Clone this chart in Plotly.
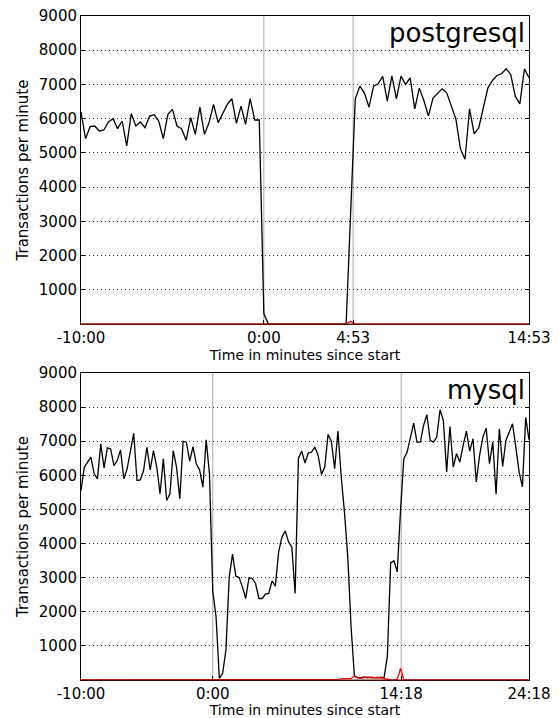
import numpy as np
import plotly.graph_objects as go
from plotly.subplots import make_subplots

# ---------------- data (transactions per minute, one sample every 15 s) ----------------
STEP_MIN = 0.25
T0 = -10.0

# postgresql
pg_before = [6194, 5417, 5767, 5786, 5641, 5670, 5903, 6000, 5709, 5932,
             5204, 6146, 5786, 5903, 5738, 6078, 6117, 5932, 5417, 6126,
             6272, 5786, 5709, 5369, 6029, 5544, 6340, 5544, 5883, 6417,
             5883, 6175, 6417, 6583, 5864, 6369, 5835, 6583, 5961, 5961]
pg_outage = [300] + [0] * 18 + [3300]
pg_after = [6580, 6951, 6746, 6337, 6951, 7020, 7234, 6512, 7254, 6580,
            7244, 7000, 7195, 6288, 6893, 6532, 6083, 6600, 6727, 6873,
            6756, 6405, 5995, 5117, 4815, 6288, 5556, 5732, 6337, 6893,
            7117, 7263, 7312, 7459, 7293, 6649, 6434, 7459, 7195]
pg_tpm = pg_before + pg_outage + pg_after
pg_err_times = [4.75]
pg_err_vals = [80]
pg_events = [0.0, 4.883]
pg_tick_vals = [-10.0, 0.0, 4.883]
pg_tick_text = ["-10:00", "0:00", "4:53", "14:53"]

# mysql
my_before = [5556, 6239, 6385, 6532, 6044, 5898, 6922, 6220, 6805, 6776,
             6288, 6434, 6746, 5898, 6190, 6727, 7234, 5849, 5868, 6141,
             6824, 6161, 6727, 6239, 5459, 6483, 5263, 5459, 6727, 6239,
             5312, 7000, 6971, 6415, 6844, 6337, 6161, 5654, 7039, 6044]
my_after = [2600, 1850, 50, 195, 878, 3024, 3688, 3044,          # 0:00 - 1:45
            3005, 2732, 2390, 2995, 2976, 2829, 2390, 2390,       # 2:00 - 3:45
            2517, 2537, 2907, 2751, 3756, 4195, 4371, 4049,       # 4:00 - 5:45
            3902, 2537, 6488, 6712, 6361, 6654, 6683, 6829,       # 6:00 - 7:45
            6585, 6029, 6244, 7200, 7000, 6195, 7298, 5951,       # 8:00 - 9:45
            4900, 3580, 1540, 117, 80, 70, 90, 60,                # 10:00 - 11:45
            80, 70, 60, 80, 70, 683, 3434, 3493,                  # 12:00 - 13:45
            3170, 4976, 6488, 6683, 7073, 7532, 6976, 6976,       # 14:00 - 15:45
            7463, 7776, 7024, 6976, 7122, 7922, 7610, 6098,       # 16:00 - 17:45
            7434, 6244, 6634, 6390, 6878, 7298, 6712, 7073,       # 18:00 - 19:45
            5805, 6585, 7122, 7385, 6341, 6976, 5450, 7366,       # 20:00 - 21:45
            6263, 7024, 7268, 7512, 6829, 6098, 5659, 7700,       # 22:00 - 23:45
            7050]                                                 # 24:00
my_tpm = my_before + my_after
my_err_times = [9.5, 9.75, 10.0, 10.25, 10.5, 10.75, 11.0, 11.25, 11.5, 11.75,
                12.0, 12.25, 12.5, 12.75, 13.0, 13.25, 14.0, 14.25]
my_err_vals = [20, 30, 30, 40, 50, 110, 60, 50, 70, 90,
               70, 60, 80, 60, 30, 10, 20, 340]
my_events = [0.0, 14.3]
my_tick_vals = [-10.0, 0.0, 14.3]
my_tick_text = ["-10:00", "0:00", "14:18", "24:18"]

y_ticks = [1000, 2000, 3000, 4000, 5000, 6000, 7000, 8000, 9000]


def times(n):
    return T0 + STEP_MIN * np.arange(n)


def err_series(t, et, ev):
    out = np.zeros(len(t))
    for a, b in zip(et, ev):
        out[int(round((a - T0) / STEP_MIN))] = b
    return out


pg_t = times(len(pg_tpm))
my_t = times(len(my_tpm))
pg_err = err_series(pg_t, pg_err_times, pg_err_vals)
my_err = err_series(my_t, my_err_times, my_err_vals)

# ---------------- figure ----------------
FONT = "DejaVu Sans"
fig = make_subplots(rows=2, cols=1)

panels = [
    (1, pg_t, pg_tpm, pg_err, pg_events, pg_tick_vals + [pg_t[-1]], pg_tick_text, "postgresql"),
    (2, my_t, my_tpm, my_err, my_events, my_tick_vals + [my_t[-1]], my_tick_text, "mysql"),
]
domains = {1: [0.5361, 1.0], 2: [0.0, 0.4623]}

for row, t, v, err, events, tv, tt, name in panels:
    fig.add_trace(go.Scatter(x=t, y=v, mode="lines", line=dict(color="black", width=1.3),
                             showlegend=False), row=row, col=1)
    fig.add_trace(go.Scatter(x=t, y=err, mode="lines", line=dict(color="#ff0000", width=1.3),
                             showlegend=False), row=row, col=1)
    for e in events:
        fig.add_vline(x=e, line=dict(color="#a8a8a8", width=1), layer="below", row=row, col=1)
    sfx = "" if row == 1 else "2"
    fig.update_xaxes(range=[t[0], t[-1]], tickvals=tv, ticktext=tt, automargin=False,
                     showline=True, linecolor="black", linewidth=1, mirror=True,
                     ticks="inside", ticklen=4, tickcolor="black", ticklabelstandoff=0,
                     showgrid=False, zeroline=False,
                     tickfont=dict(family=FONT, size=15, color="black"),
                     title=dict(text="Time in minutes since start", standoff=1,
                                font=dict(family=FONT, size=14, color="black")),
                     row=row, col=1)
    fig.update_yaxes(range=[0, 9000], tickvals=y_ticks, domain=domains[row], automargin=False,
                     showline=True, linecolor="black", linewidth=1, mirror="ticks",
                     ticks="inside", ticklen=4, tickcolor="black",
                     showgrid=True, gridcolor="#333333", gridwidth=1, griddash="1px,3px",
                     zeroline=False,
                     tickfont=dict(family=FONT, size=15, color="black"),
                     title=dict(text="Transactions per minute", standoff=6,
                                font=dict(family=FONT, size=15, color="black")),
                     row=row, col=1)
    # dark red baseline (red series drawn over the black axis)
    fig.add_shape(type="line", xref=f"x{sfx} domain", yref=f"y{sfx} domain",
                  x0=0, x1=1, y0=0, y1=0, line=dict(color="#7a1414", width=1.2), layer="above")
    fig.add_annotation(text=name, xref=f"x{sfx} domain", yref=f"y{sfx} domain",
                       x=0.995, y=1.0, xanchor="right", yanchor="top", showarrow=False,
                       font=dict(family=FONT, size=26, color="black"))

fig.update_layout(width=559, height=718, margin=dict(l=81, r=30, t=16, b=38, autoexpand=False),
                  plot_bgcolor="white", paper_bgcolor="white",
                  font=dict(family=FONT, color="black"))

fig.write_html("out.html", config={"displayModeBar": False},
               post_script="document.body.style.margin='0';document.body.style.overflow='hidden';"
                           "document.documentElement.style.overflow='hidden';")
